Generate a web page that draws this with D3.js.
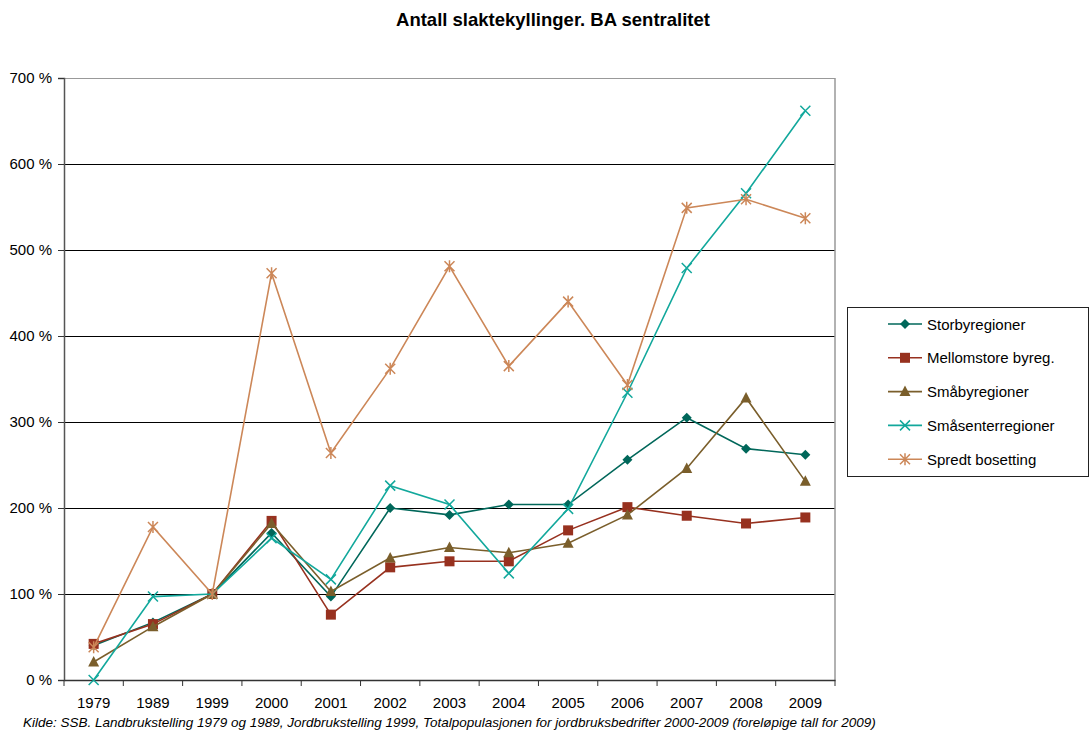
<!DOCTYPE html>
<html>
<head>
<meta charset="utf-8">
<script src="https://cdn.jsdelivr.net/npm/d3@7"></script>
<style>
  body { margin: 0; background: #fff; }
  svg { font-family: Arial, "Liberation Sans", sans-serif; }
</style>
</head>
<body>
<div id="chart"></div>
<script>
// data (percent)
const years = ['1979', '1989', '1999', '2000', '2001', '2002', '2003', '2004', '2005', '2006', '2007', '2008', '2009'];
const yTicks = [0, 100, 200, 300, 400, 500, 600, 700];
const storby = [40, 67, 100, 171, 97, 200, 192, 204, 204, 256, 305, 269, 262];
const mellomstore = [42, 65, 100, 185, 76, 131, 138, 138, 174, 201, 191, 182, 189];
const smaaby = [21, 62, 100, 182, 103, 142, 154, 148, 159, 192, 246, 328, 231];
const smaasenter = [0, 97, 100, 165, 117, 226, 204, 124, 199, 334, 479, 566, 662];
const spredt = [38, 178, 100, 473, 264, 362, 481, 365, 440, 343, 549, 559, 537];

const series = [
    { name: 'Storbyregioner', values: storby, color: '#00675a', marker: 'diamond' },
    { name: 'Mellomstore byreg.', values: mellomstore, color: '#97311f', marker: 'square' },
    { name: 'Småbyregioner', values: smaaby, color: '#7a5e2b', marker: 'triangle' },
    { name: 'Småsenterregioner', values: smaasenter, color: '#12a89c', marker: 'x' },
    { name: 'Spredt bosetting', values: spredt, color: '#cc8758', marker: 'star' }
];

let width = 1091, height = 737;
let margin = { left: 64, right: 256, top: 78, bottom: 57 };

let svg = d3.select('#chart').append('svg')
    .attr('width', width)
    .attr('height', height);

// tittel
svg.append('text')
    .attr('x', 553)
    .attr('y', 26)
    .attr('text-anchor', 'middle')
    .attr('font-size', 18.5)
    .attr('font-weight', 'bold')
    .text('Antall slaktekyllinger. BA sentralitet');

let x = d3.scaleBand()
    .domain(years)
    .range([margin.left, width - margin.right]);

let y = d3.scaleLinear()
    .domain([0, 700])
    .range([height - margin.bottom, margin.top]);

// gridlines
svg.append('g')
    .selectAll('line')
    .data(yTicks.filter(d => d > 0))
    .enter()
    .append('line')
    .attr('x1', margin.left)
    .attr('x2', width - margin.right)
    .attr('y1', d => Math.round(y(d)) + 0.5)
    .attr('y2', d => Math.round(y(d)) + 0.5)
    .attr('stroke', d => d === 700 ? '#999' : '#000')
    .attr('stroke-width', 1);

// right border of plot
svg.append('line')
    .attr('x1', width - margin.right)
    .attr('x2', width - margin.right)
    .attr('y1', margin.top)
    .attr('y2', height - margin.bottom)
    .attr('stroke', '#999')
    .attr('stroke-width', 1.5);

// y axis
let yAxis = svg.append('g')
    .attr('transform', `translate(${margin.left},0)`)
    .call(d3.axisLeft(y).tickValues(yTicks).tickSize(6).tickFormat(d => d + ' %'));
yAxis.select('.domain').attr('stroke', '#555').attr('stroke-width', 1.5);
yAxis.selectAll('.tick line').attr('stroke', '#333');
yAxis.selectAll('text')
    .attr('font-size', 15)
    .attr('font-family', 'Arial, "Liberation Sans", sans-serif')
    .attr('fill', '#000')
    .attr('x', -12);

// x axis (ticks between categories)
let xAxis = svg.append('g')
    .attr('transform', `translate(0,${height - margin.bottom})`)
    .call(d3.axisBottom(x).tickSize(0));
xAxis.select('.domain').attr('stroke', '#333').attr('stroke-width', 1.5);
xAxis.selectAll('text')
    .attr('font-size', 15)
    .attr('font-family', 'Arial, "Liberation Sans", sans-serif')
    .attr('fill', '#000')
    .attr('dy', null)
    .attr('y', 28);
xAxis.selectAll('line.sep')
    .data(years.concat(['end']))
    .enter()
    .append('line')
    .attr('class', 'sep')
    .attr('x1', (d, i) => margin.left + i * x.step())
    .attr('x2', (d, i) => margin.left + i * x.step())
    .attr('y1', 0)
    .attr('y2', 6)
    .attr('stroke', '#333');

let cx = i => x(years[i]) + x.bandwidth() / 2;

let line = d3.line()
    .x((d, i) => cx(i))
    .y(d => y(d));

function drawMarker(g, type, color) {
    if (type === 'diamond') {
        g.append('path').attr('d', 'M0,-5L5,0L0,5L-5,0Z').attr('fill', color);
    } else if (type === 'square') {
        g.append('rect').attr('x', -5).attr('y', -5).attr('width', 10).attr('height', 10).attr('fill', color);
    } else if (type === 'triangle') {
        g.append('path').attr('d', 'M0,-6L5.5,4.5L-5.5,4.5Z').attr('fill', color);
    } else if (type === 'x') {
        g.append('path').attr('d', 'M-5,-5L5,5M-5,5L5,-5').attr('stroke', color).attr('stroke-width', 1.5);
    } else if (type === 'star') {
        g.append('path').attr('d', 'M-5,-5L5,5M-5,5L5,-5M0,-6L0,6').attr('stroke', color).attr('stroke-width', 1.5);
    }
}

// lines + markers
series.forEach(s => {
    svg.append('path')
        .datum(s.values)
        .attr('fill', 'none')
        .attr('stroke', s.color)
        .attr('stroke-width', 1.6)
        .attr('d', line);

    s.values.forEach((v, i) => {
        let g = svg.append('g').attr('transform', `translate(${cx(i)},${y(v)})`);
        drawMarker(g, s.marker, s.color);
    });
});

// legend
let legend = svg.append('g');
legend.append('rect')
    .attr('x', 847.5)
    .attr('y', 307.5)
    .attr('width', 241)
    .attr('height', 169)
    .attr('fill', '#fff')
    .attr('stroke', '#222')
    .attr('stroke-width', 1);

series.forEach((s, i) => {
    let ly = 324 + i * 33.8;
    legend.append('line')
        .attr('x1', 888).attr('x2', 922)
        .attr('y1', ly).attr('y2', ly)
        .attr('stroke', s.color)
        .attr('stroke-width', 1.6);
    let g = legend.append('g').attr('transform', `translate(905,${ly})`);
    drawMarker(g, s.marker, s.color);
    legend.append('text')
        .attr('x', 927)
        .attr('y', ly + 5.5)
        .attr('font-size', 15)
        .text(s.name);
});

// kilde
svg.append('text')
    .attr('x', 23)
    .attr('y', 727)
    .attr('font-size', 13.5)
    .attr('font-style', 'italic')
    .text('Kilde: SSB. Landbrukstelling 1979 og 1989, Jordbrukstelling 1999, Totalpopulasjonen for jordbruksbedrifter 2000-2009 (foreløpige tall for 2009)');
</script>
</body>
</html>
